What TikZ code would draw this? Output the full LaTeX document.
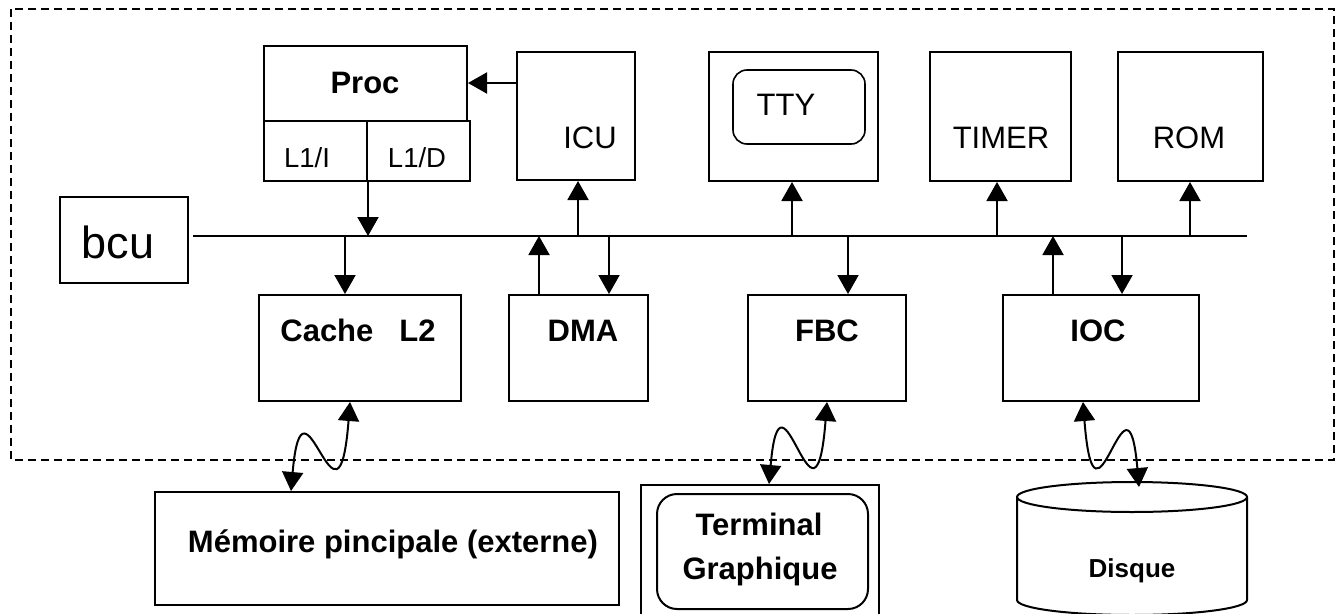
\documentclass[tikz,border=0pt]{standalone}
\usepackage{fontspec}
\setmainfont{Liberation Sans}
\usetikzlibrary{arrows.meta}
\begin{document}
\begin{tikzpicture}[x=1pt,y=-1pt,
  box/.style={draw, line width=2pt, inner sep=0pt, rectangle},
  rbox/.style={box, rounded corners=14pt},
  lbl/.style={anchor=base, inner sep=0pt, font=\fontsize{31}{37}\selectfont},
  blbl/.style={anchor=base, inner sep=0pt, font=\fontsize{31}{37}\selectfont\bfseries},
  arr/.style={line width=2pt, -{Triangle[length=19pt,width=21pt]}},
  warr/.style={line width=2pt, {Triangle[length=19pt,width=21pt]}-{Triangle[length=19pt,width=21pt]}},
  outer/.style={line width=1.7pt, dash pattern=on 8pt off 5pt}
]
\useasboundingbox (0,0) rectangle (1340,613);
\clip (0,0) rectangle (1340,613);

% outer dashed frame
\draw[outer] (11,9) rectangle (1334,460);

% boxes
\node[box, minimum width=203pt, minimum height=75pt] (proc) at (365.5,83.5) {};
\node[box, minimum width=103pt, minimum height=60pt] (l1i) at (315.5,151) {};
\node[box, minimum width=103pt, minimum height=60pt] (l1d) at (418.5,151) {};
\node[box, minimum width=118pt, minimum height=128pt] (icu) at (576,116) {};
\node[box, minimum width=169pt, minimum height=129pt] (tty) at (793.5,116.5) {};
\node[rbox, line width=1.6pt, minimum width=132pt, minimum height=74pt] (ttyin) at (799,107) {};
\node[box, minimum width=141pt, minimum height=129pt] (timer) at (1000.5,116.5) {};
\node[box, minimum width=145pt, minimum height=129pt] (rom) at (1190.5,116.5) {};
\node[box, minimum width=128pt, minimum height=86pt] (bcu) at (124,240) {};
\node[box, minimum width=202pt, minimum height=106pt] (cache) at (360,348) {};
\node[box, minimum width=139pt, minimum height=106pt] (dma) at (578.5,348) {};
\node[box, minimum width=158pt, minimum height=106pt] (fbc) at (827,348) {};
\node[box, minimum width=196pt, minimum height=106pt] (ioc) at (1101,348) {};
\node[box, minimum width=464pt, minimum height=113pt] (mem) at (387,548.5) {};
\node[box, minimum width=238pt, minimum height=145pt] (term) at (760,557.5) {};
\node[rbox, rounded corners=20pt, minimum width=211pt, minimum height=115pt] (termin) at (762.5,551.5) {};

% disk (cylinder)
\draw[line width=2pt] (1132,497) ellipse [x radius=115, y radius=15];
\draw[line width=2pt] (1017,497) -- (1017,600)
  arc[start angle=180, end angle=0, x radius=115, y radius=15] -- (1247,497);
\coordinate (disktop) at (1139,487);

% bus
\coordinate (busL) at (193,236);
\coordinate (busR) at (1247,236);
\draw[line width=2.2pt] (busL) -- (busR);

% labels
\node[blbl] (tproc) at (365,93) {Proc};
\node[lbl, font=\fontsize{27.5}{33}\selectfont] (tl1i) at (307,167) {L1/I};
\node[lbl, font=\fontsize{27.5}{33}\selectfont] (tl1d) at (417,167) {L1/D};
\node[lbl] (ticu) at (590,148) {ICU};
\node[lbl] (ttty) at (786,115) {TTY};
\node[lbl] (ttimer) at (1001,148) {TIMER};
\node[lbl] (trom) at (1189,148) {ROM};
\node[lbl, font=\fontsize{45}{54}\selectfont] (tbcu) at (118,258) {bcu};
\node[blbl] (tcache) at (358,341) {Cache\hspace{26pt}L2};
\node[blbl] (tdma) at (583,341) {DMA};
\node[blbl] (tfbc) at (827,341) {FBC};
\node[blbl] (tioc) at (1098,341) {IOC};
\node[blbl] (tmem) at (393,552) {Mémoire pincipale (externe)};
\node[blbl] (tterm1) at (759,535) {Terminal};
\node[blbl] (tterm2) at (760,579) {Graphique};
\node[blbl, font=\fontsize{26}{31}\selectfont\bfseries] (tdisk) at (1132,577) {Disque};

% straight connectors
\draw[arr] ([yshift=33pt]icu.west) -- ([yshift=33pt]icu.west -| proc.east);
\draw[arr] (l1i.south east) -- (l1i.south east |- busL);
\draw[arr] ([xshift=2pt]icu.south |- busL) -- ([xshift=2pt]icu.south);
\draw[arr] ([xshift=-1.5pt]tty.south |- busL) -- ([xshift=-1.5pt]tty.south);
\draw[arr] ([xshift=-3.5pt]timer.south |- busL) -- ([xshift=-3.5pt]timer.south);
\draw[arr] ([xshift=-0.5pt]rom.south |- busL) -- ([xshift=-0.5pt]rom.south);
\draw[arr] ([xshift=-15pt]cache.north |- busL) -- ([xshift=-15pt]cache.north);
\draw[arr] ([xshift=31pt]dma.north west) -- ([xshift=31pt]dma.north west |- busL);
\draw[arr] ([xshift=-40pt]dma.north east |- busL) -- ([xshift=-40pt]dma.north east);
\draw[arr] ([xshift=21pt]fbc.north |- busL) -- ([xshift=21pt]fbc.north);
\draw[arr] ([xshift=51pt]ioc.north west) -- ([xshift=51pt]ioc.north west |- busL);
\draw[arr] ([xshift=21pt]ioc.north |- busL) -- ([xshift=21pt]ioc.north);

% wavy connectors
\draw[warr] ([xshift=-96pt]mem.north) .. controls +(12,-137) and +(-12,154) .. ([xshift=-10pt]cache.south);
\draw[warr] ([xshift=9pt]term.north) .. controls +(12,-137) and +(-12,154) .. (fbc.south);
\draw[warr] ([xshift=-18pt]ioc.south) .. controls +(12,154) and +(-12,-137) .. (disktop);
\end{tikzpicture}
\end{document}
